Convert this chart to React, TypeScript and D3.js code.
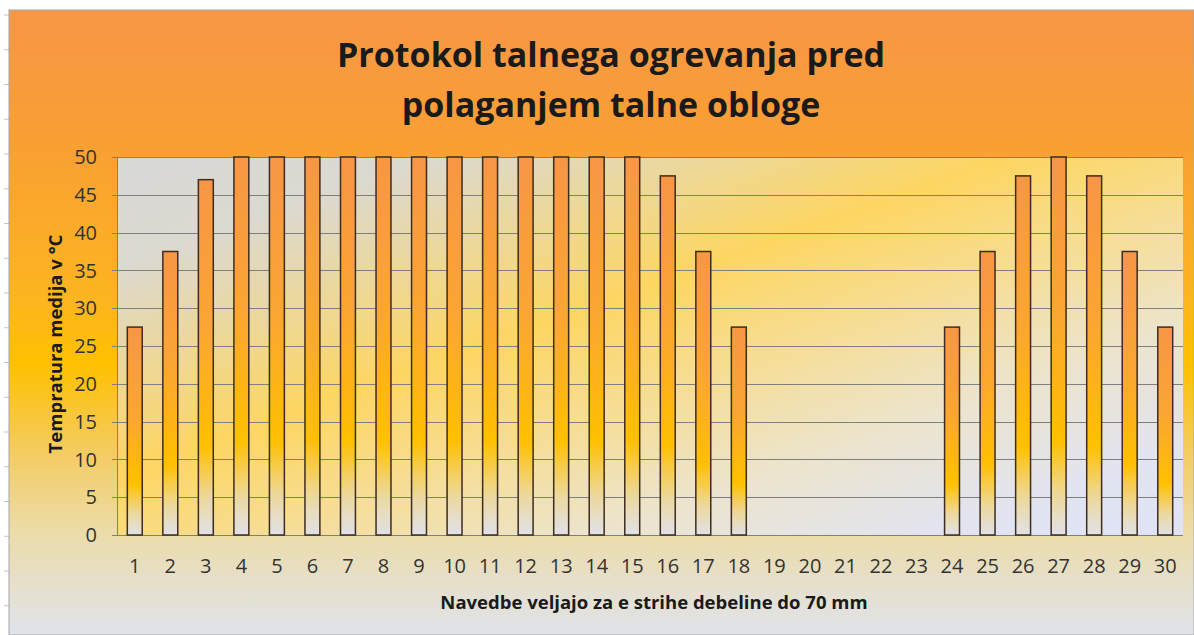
import { useEffect, useRef } from "react";
import * as d3 from "d3";

// days of the heating protocol
const days = [
  "1", "2", "3", "4", "5", "6", "7", "8", "9", "10",
  "11", "12", "13", "14", "15", "16", "17", "18", "19", "20",
  "21", "22", "23", "24", "25", "26", "27", "28", "29", "30",
];

// medium temperature per day, °C
const temps = [
  27.5, 37.5, 47, 50, 50, 50, 50, 50, 50, 50,
  50, 50, 50, 50, 50, 47.5, 37.5, 27.5, 0, 0,
  0, 0, 0, 27.5, 37.5, 47.5, 50, 47.5, 37.5, 27.5,
];

const yTicks = [0, 5, 10, 15, 20, 25, 30, 35, 40, 45, 50];

const titleLines = ["Protokol talnega ogrevanja pred", "polaganjem talne obloge"];
const xTitle = "Navedbe veljajo za e strihe debeline do 70 mm";
const yTitle = "Tempratura medija v °C";

const W = 1194;
const H = 635;
const FONT = "'Open Sans', Lato, sans-serif";

const App = () => {
  const ref = useRef<SVGSVGElement>(null);

  useEffect(() => {
    if (!ref.current) return;
    const svg = d3.select(ref.current);
    svg.selectAll("*").remove();

    const plot = { left: 117, right: 1183, top: 157, bottom: 535 };

    const x = d3
      .scaleBand<string>()
      .domain(days)
      .range([plot.left, plot.right])
      .paddingInner(0.58)
      .paddingOuter(0.29);

    const y = d3.scaleLinear().domain([0, 50]).range([plot.bottom, plot.top]);

    // gradients
    const defs = svg.append("defs");

    const outer = defs
      .append("linearGradient")
      .attr("id", "outerGrad")
      .attr("gradientUnits", "userSpaceOnUse")
      .attr("x1", 0)
      .attr("y1", 10)
      .attr("x2", 0)
      .attr("y2", 640);
    [
      [0, "#f79646"],
      [0.22, "#f9a033"],
      [0.46, "#fdb520"],
      [0.56, "#ffc000"],
      [0.7, "#f4cb60"],
      [0.83, "#ecdcaa"],
      [1, "#dfe3ef"],
    ].forEach(([o, c]) => outer.append("stop").attr("offset", o).attr("stop-color", c));

    const plotGrad = defs
      .append("linearGradient")
      .attr("id", "plotGrad")
      .attr("x1", 0)
      .attr("y1", 0)
      .attr("x2", 1)
      .attr("y2", 1);
    [
      [0, "#d8d8d8"],
      [0.15, "#dcd9cf"],
      [0.42, "#fdd662"],
      [0.56, "#f7dd92"],
      [0.72, "#ece4cc"],
      [0.88, "#e2e4f0"],
      [1, "#dfe3f6"],
    ].forEach(([o, c]) => plotGrad.append("stop").attr("offset", o).attr("stop-color", c));

    const barGrad = defs
      .append("linearGradient")
      .attr("id", "barGrad")
      .attr("x1", 0)
      .attr("y1", 0)
      .attr("x2", 0)
      .attr("y2", 1);
    [
      [0, "#f79646"],
      [0.42, "#fba632"],
      [0.75, "#ffc000"],
      [0.9, "#ecd9a0"],
      [1, "#e0e1e8"],
    ].forEach(([o, c]) => barGrad.append("stop").attr("offset", o).attr("stop-color", c));

    // sheet row marks at the far left
    svg
      .append("g")
      .selectAll("line")
      .data(d3.range(15, H, 34.75))
      .enter()
      .append("line")
      .attr("x1", 4)
      .attr("x2", 9)
      .attr("y1", (d) => d)
      .attr("y2", (d) => d)
      .attr("stroke", "#c4c4c4");

    // chart area
    svg
      .append("rect")
      .attr("x", 9)
      .attr("y", 10)
      .attr("width", W - 9)
      .attr("height", H - 10)
      .attr("fill", "url(#outerGrad)")
      .attr("stroke", "#a6a6a6")
      .attr("stroke-width", 1);

    // plot area
    svg
      .append("rect")
      .attr("x", plot.left)
      .attr("y", plot.top)
      .attr("width", plot.right - plot.left)
      .attr("height", plot.bottom - plot.top)
      .attr("fill", "url(#plotGrad)");

    // gridlines
    svg
      .append("g")
      .selectAll("line")
      .data(yTicks)
      .enter()
      .append("line")
      .attr("x1", plot.left - 5)
      .attr("x2", plot.right)
      .attr("y1", (d) => Math.round(y(d)) + 0.5)
      .attr("y2", (d) => Math.round(y(d)) + 0.5)
      .attr("stroke", "#7f7f7f")
      .attr("stroke-width", 1);

    svg
      .append("line")
      .attr("x1", plot.left + 0.5)
      .attr("x2", plot.left + 0.5)
      .attr("y1", plot.top)
      .attr("y2", plot.bottom)
      .attr("stroke", "#7f7f7f");

    // bars
    svg
      .append("g")
      .selectAll("rect")
      .data(temps.map((v, i) => ({ day: days[i], v })).filter((d) => d.v > 0))
      .enter()
      .append("rect")
      .attr("x", (d) => x(d.day) as number)
      .attr("y", (d) => y(d.v))
      .attr("width", x.bandwidth())
      .attr("height", (d) => y(0) - y(d.v))
      .attr("fill", "url(#barGrad)")
      .attr("stroke", "#3d2c22")
      .attr("stroke-width", 1.5);

    // y tick labels
    svg
      .append("g")
      .selectAll("text")
      .data(yTicks)
      .enter()
      .append("text")
      .attr("x", 97)
      .attr("y", (d) => y(d))
      .attr("dy", "0.36em")
      .attr("text-anchor", "end")
      .style("font-family", FONT)
      .style("font-size", "20px")
      .style("fill", "#333")
      .text((d) => d);

    // x tick labels
    svg
      .append("g")
      .selectAll("text")
      .data(days)
      .enter()
      .append("text")
      .attr("x", (d) => (x(d) as number) + x.bandwidth() / 2)
      .attr("y", 573)
      .attr("text-anchor", "middle")
      .style("font-family", FONT)
      .style("font-size", "20px")
      .style("fill", "#333")
      .text((d) => d);

    // title
    svg
      .append("g")
      .selectAll("text")
      .data(titleLines)
      .enter()
      .append("text")
      .attr("x", 611)
      .attr("y", (d, i) => 67 + i * 50)
      .attr("text-anchor", "middle")
      .style("font-family", FONT)
      .style("font-size", "34px")
      .style("font-weight", "bold")
      .style("fill", "#1a1a1a")
      .text((d) => d);

    // axis titles
    svg
      .append("text")
      .attr("x", 654)
      .attr("y", 609)
      .attr("text-anchor", "middle")
      .style("font-family", FONT)
      .style("font-size", "18.5px")
      .style("font-weight", "bold")
      .style("fill", "#1a1a1a")
      .text(xTitle);

    svg
      .append("text")
      .attr("transform", "translate(62,344) rotate(-90)")
      .attr("text-anchor", "middle")
      .style("font-family", FONT)
      .style("font-size", "18.5px")
      .style("font-weight", "bold")
      .style("fill", "#1a1a1a")
      .text(yTitle);
  }, []);

  return (
    <svg
      ref={ref}
      width={W}
      height={H}
      style={{ position: "absolute", left: 0, top: 0, display: "block", background: "#fff" }}
    />
  );
};

export default App;
